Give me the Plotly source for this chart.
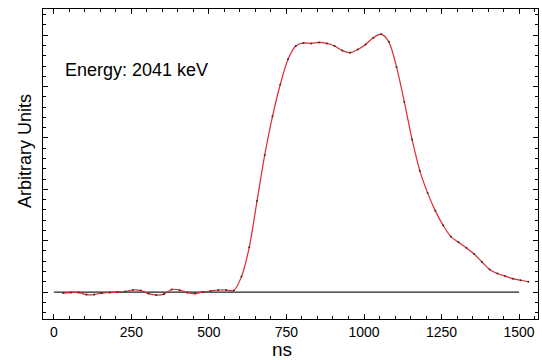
import plotly.graph_objects as go

# Sample times (ns) and signal values (arbitrary units)
time_ns = [30, 55, 80, 105, 130, 155, 180, 205, 230, 255, 280, 305, 330, 355, 380,
           405, 430, 455, 480, 505, 530, 555, 580, 605, 630, 655, 680, 705, 730, 755,
           780, 805, 830, 855, 880, 905, 930, 955, 980, 1005, 1030, 1055, 1080, 1105,
           1130, 1155, 1180, 1205, 1230, 1255, 1280, 1305, 1330, 1355, 1380, 1405,
           1430, 1455, 1480, 1505, 1530]
signal = [-0.02, -0.01, -0.01, -0.05, -0.05, -0.02, -0.01, 0.0, 0.01, 0.04, 0.03,
          -0.03, -0.06, -0.04, 0.05, 0.04, -0.01, -0.03, 0.0, 0.02, 0.04, 0.04, 0.03,
          0.3, 0.87, 1.77, 2.67, 3.42, 4.04, 4.53, 4.79, 4.85, 4.84, 4.86, 4.84,
          4.79, 4.70, 4.66, 4.72, 4.82, 4.95, 5.02, 4.87, 4.38, 3.70, 2.97, 2.36,
          1.93, 1.58, 1.30, 1.08, 0.97, 0.86, 0.74, 0.59, 0.44, 0.36, 0.31, 0.26,
          0.23, 0.20]
baseline_x = [0, 1500]
baseline_y = [0, 0]
x_ticks = [0, 250, 500, 750, 1000, 1250, 1500]
annotation_text = "Energy: 2041 keV"

FONT = "Liberation Sans, Arial, Helvetica, sans-serif"

fig = go.Figure()
fig.add_trace(go.Scatter(x=baseline_x, y=baseline_y, mode="lines",
                         line=dict(color="#222222", width=1.3), hoverinfo="skip"))
fig.add_trace(go.Scatter(x=time_ns, y=signal, mode="lines",
                         line=dict(color="#e2272f", width=1.2, shape="spline", smoothing=0.8)))
fig.add_trace(go.Scatter(x=time_ns, y=signal, mode="markers",
                         marker=dict(color="#333333", size=2)))

axis_common = dict(showline=True, linecolor="black", linewidth=1, mirror="ticks",
                   showgrid=False, zeroline=False, ticks="inside", tickcolor="black",
                   ticklen=5, tickwidth=1)

fig.update_xaxes(**axis_common, range=[-35, 1561], tickmode="array", tickvals=x_ticks,
                 ticktext=[str(v) for v in x_ticks],
                 tickfont=dict(family=FONT, size=14, color="black"),
                 minor=dict(dtick=50, ticks="inside", ticklen=3, tickcolor="black", showgrid=False))
fig.update_yaxes(**axis_common, range=[-0.525, 5.51], dtick=1, tick0=0, showticklabels=False,
                 minor=dict(dtick=0.2, ticks="inside", ticklen=3, tickcolor="black", showgrid=False))

fig.add_annotation(x=29, y=4.32, xref="x", yref="y", text=annotation_text, showarrow=False,
                   xanchor="left", yanchor="middle", font=dict(family=FONT, size=18, color="black"))
fig.add_annotation(x=282, y=349, xref="paper", yref="paper", text="ns", showarrow=False,
                   font=dict(family=FONT, size=19, color="black"))
fig.add_annotation(x=25, y=151, xref="paper", yref="paper", text="Arbitrary Units",
                   textangle=-90, showarrow=False,
                   font=dict(family=FONT, size=18, color="black"))

# convert pixel positions of axis-title annotations to paper coords
L, R, T, B = 43, 4, 9, 41
W, H = 542, 360
pw, ph = W - L - R, H - T - B
for ann in fig.layout.annotations[1:]:
    ann.x = (ann.x - L) / pw
    ann.y = 1 - (ann.y - T) / ph
    ann.xanchor = "center"
    ann.yanchor = "middle"

fig.update_layout(width=W, height=H, margin=dict(l=L, r=R, t=T, b=B),
                  plot_bgcolor="white", paper_bgcolor="white", showlegend=False)

fig.write_html("out.html")
